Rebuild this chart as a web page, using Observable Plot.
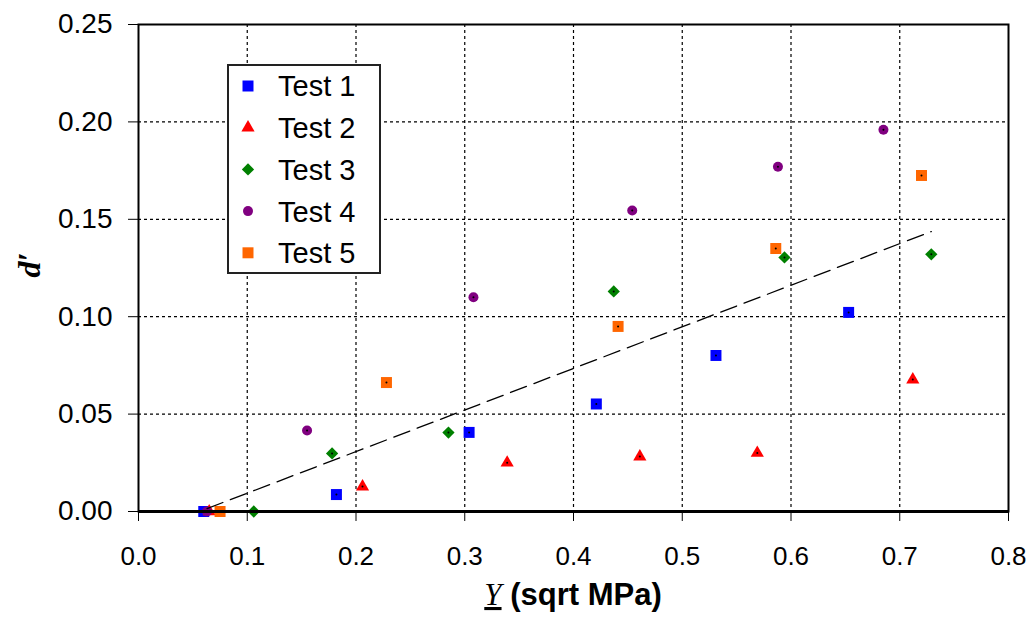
<!DOCTYPE html>
<html>
<head>
<meta charset="utf-8">
<script src="https://cdn.jsdelivr.net/npm/d3@7"></script>
<script src="https://cdn.jsdelivr.net/npm/@observablehq/plot@0.6"></script>
<style>
  html, body { margin: 0; padding: 0; background: #fff; }
  #chart svg { display: block; }
</style>
</head>
<body>
<div id="chart"></div>
<script>
// ---- data ----
const seriesNames = ["Test 1", "Test 2", "Test 3", "Test 4", "Test 5"];
const seriesColors = ["#0000ff", "#ff0000", "#008000", "#800080", "#ff6600"];

const test1X = [0.060, 0.182, 0.304, 0.421, 0.531, 0.653];
const test1Y = [0.000, 0.0087, 0.0406, 0.0552, 0.0801, 0.1022];

const test2X = [0.065, 0.206, 0.339, 0.461, 0.569, 0.712];
const test2Y = [0.000, 0.0128, 0.0250, 0.0282, 0.0300, 0.0677];

const test3X = [0.106, 0.178, 0.285, 0.437, 0.594, 0.729];
const test3Y = [0.000, 0.0298, 0.0405, 0.1130, 0.1304, 0.1320];

const test4X = [0.063, 0.155, 0.308, 0.454, 0.588, 0.685];
const test4Y = [0.000, 0.0416, 0.1100, 0.1545, 0.1770, 0.1960];

const test5X = [0.075, 0.228, 0.441, 0.586, 0.720];
const test5Y = [0.000, 0.0662, 0.0950, 0.1350, 0.1725];

// linear trend line endpoints
const trendX = [0.063, 0.729];
const trendY = [0.0015, 0.1437];

const xTicks = [0, 0.1, 0.2, 0.3, 0.4, 0.5, 0.6, 0.7, 0.8];
const yTicks = [0, 0.05, 0.10, 0.15, 0.20, 0.25];

// ---- build tables ----
const allX = [test1X, test2X, test3X, test4X, test5X];
const allY = [test1Y, test2Y, test3Y, test4Y, test5Y];
const rows = [];
seriesNames.forEach((name, i) => {
  allX[i].forEach((x, j) => rows.push({series: name, x, y: allY[i][j]}));
});
const trend = trendX.map((x, i) => ({x, y: trendY[i]}));

// ---- symbols ----
const symSquare = {draw(ctx, size) { const s = Math.sqrt(size) / 2; ctx.moveTo(-s, -s); ctx.lineTo(s, -s); ctx.lineTo(s, s); ctx.lineTo(-s, s); ctx.closePath(); }};
const symDiamond = {draw(ctx, size) { const h = Math.sqrt(size / 2); ctx.moveTo(0, -h); ctx.lineTo(h, 0); ctx.lineTo(0, h); ctx.lineTo(-h, 0); ctx.closePath(); }};
const symTriangle = d3.symbolTriangle;
const symCircle = d3.symbolCircle;
const seriesSymbols = [symSquare, symTriangle, symDiamond, symCircle, symSquare];
const seriesR = [6.2, 4.9, 4.9, 5.0, 6.2];

const W = 1032, H = 623;
const mL = 138, mR = 24, mT = 24, mB = 112;

const marks = [
  Plot.gridX(xTicks.slice(1, -1), {stroke: "#000", strokeOpacity: 1, strokeDasharray: "3,3", strokeWidth: 1.2}),
  Plot.gridY(yTicks.slice(1, -1), {stroke: "#000", strokeOpacity: 1, strokeDasharray: "3,3", strokeWidth: 1.2})
];
seriesNames.forEach((name, i) => {
  marks.push(Plot.dot(rows.filter(d => d.series === name), {
    x: "x", y: "y", symbol: seriesSymbols[i], r: seriesR[i], fill: seriesColors[i]
  }));
});
marks.push(Plot.dot(rows, {x: "x", y: "y", r: 1, fill: "#000"}));
marks.push(Plot.line(trend, {x: "x", y: "y", stroke: "#000", strokeWidth: 1.3, strokeDasharray: "17,8"}));
marks.push(Plot.frame({stroke: "#000", strokeWidth: 2}));
marks.push(Plot.ruleY([0], {stroke: "#000", strokeWidth: 3}));
marks.push(Plot.axisX({ticks: xTicks, tickFormat: d3.format(".1f"), tickSize: 10, tickPadding: 25, fontSize: 26, label: null}));
marks.push(Plot.axisY({ticks: yTicks, tickFormat: d3.format(".2f"), tickSize: 10, tickPadding: 16, fontSize: 28, label: null}));

const chart = Plot.plot({
  width: W, height: H,
  marginLeft: mL, marginRight: mR, marginTop: mT, marginBottom: mB,
  x: {domain: [0, 0.8]},
  y: {domain: [0, 0.25]},
  style: {fontFamily: "'Liberation Sans', Arial, sans-serif", color: "#000", background: "#fff", overflow: "visible"},
  marks
});
document.getElementById("chart").appendChild(chart);

// ---- titles & legend (added to the same SVG) ----
const svg = d3.select(chart);

// x title
const xt = svg.append("text")
  .attr("x", (mL + (W - mR)) / 2).attr("y", 605)
  .attr("text-anchor", "middle").attr("fill", "#000");
xt.append("tspan").text("Y")
  .attr("font-family", "'Liberation Serif', 'Times New Roman', serif")
  .attr("font-style", "italic").attr("font-size", 31)
  .attr("text-decoration", "underline");
xt.append("tspan").text(" (sqrt MPa)")
  .attr("font-family", "'Liberation Sans', Arial, sans-serif")
  .attr("font-weight", "bold").attr("font-size", 31);

// y title
svg.append("text")
  .attr("transform", "translate(40,265) rotate(-90)")
  .attr("text-anchor", "middle")
  .attr("font-family", "'Liberation Serif', 'Times New Roman', serif")
  .attr("font-style", "italic").attr("font-weight", "bold")
  .attr("font-size", 32).attr("fill", "#000")
  .text("d\u2032");

// legend
const lg = svg.append("g");
lg.append("rect").attr("x", 228).attr("y", 65).attr("width", 152).attr("height", 208)
  .attr("fill", "#fff").attr("stroke", "#222").attr("stroke-width", 2);
seriesNames.forEach((name, i) => {
  const cy = 86 + i * 41.7;
  lg.append("path")
    .attr("transform", `translate(248,${cy})`)
    .attr("d", d3.symbol(seriesSymbols[i], Math.PI * seriesR[i] * seriesR[i])())
    .attr("fill", seriesColors[i]);
  lg.append("text").attr("x", 278).attr("y", cy).attr("dy", "0.36em")
    .attr("text-anchor", "start")
    .attr("font-size", 29).attr("fill", "#000")
    .attr("font-family", "'Liberation Sans', Arial, sans-serif")
    .text(name);
});
</script>
</body>
</html>
